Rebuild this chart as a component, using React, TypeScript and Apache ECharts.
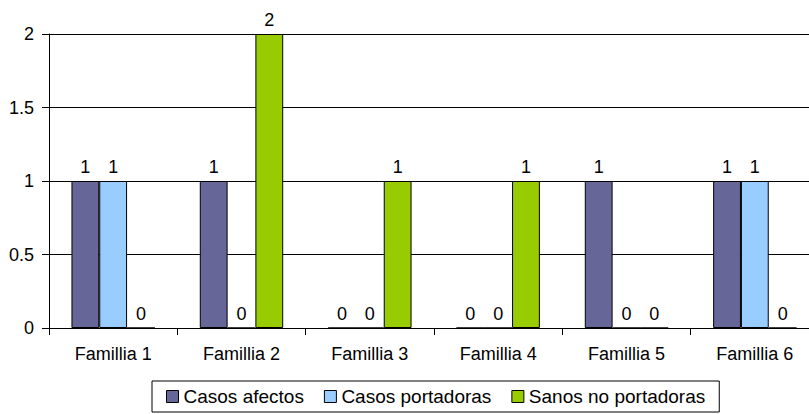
import React, { useEffect, useRef } from "react";
import * as echarts from "echarts";

const categories = ["Famillia 1", "Famillia 2", "Famillia 3", "Famillia 4", "Famillia 5", "Famillia 6"];
const casosAfectos = [1, 1, 0, 0, 1, 1];
const casosPortadoras = [1, 0, 0, 0, 0, 1];
const sanosNoPortadoras = [0, 2, 1, 1, 0, 0];
const seriesNames = ["Casos afectos", "Casos portadoras", "Sanos no portadoras"];
const seriesColors = ["#666699", "#99CCFF", "#99CC00"];

const FONT = "Liberation Sans, Arial, sans-serif";

export default function App() {
  const ref = useRef<HTMLDivElement>(null);
  useEffect(() => {
    if (!ref.current) return;
    const chart = echarts.init(ref.current, null, { renderer: "svg" });
    const data = [casosAfectos, casosPortadoras, sanosNoPortadoras];
    chart.setOption({
      animation: false,
      textStyle: { fontFamily: FONT },
      grid: { left: 49, top: 34, width: 770, height: 294, containLabel: false },
      legend: {
        left: 152,
        top: 381,
        padding: [6, 14, 6, 14],
        borderColor: "#000",
        borderWidth: 1,
        itemWidth: 12,
        itemHeight: 12,
        itemGap: 20,
        icon: "rect",
        textStyle: { fontFamily: FONT, fontSize: 19, color: "#000" },
        itemStyle: { borderColor: "#000", borderWidth: 1 },
        data: seriesNames,
      },
      xAxis: {
        type: "category",
        data: categories,
        axisLine: { lineStyle: { color: "#000", width: 1 } },
        axisTick: { show: true, length: 7, alignWithLabel: false, lineStyle: { color: "#000" } },
        axisLabel: { color: "#000", fontSize: 18, margin: 17, fontFamily: FONT },
      },
      yAxis: {
        type: "value",
        min: 0,
        max: 2,
        interval: 0.5,
        axisLine: { show: true, lineStyle: { color: "#000", width: 1 } },
        axisTick: { show: true, length: 7, lineStyle: { color: "#000" } },
        axisLabel: { color: "#000", fontSize: 18, margin: 15, fontFamily: FONT },
        splitLine: { show: true, lineStyle: { color: "#000", width: 1 } },
      },
      series: seriesNames.map((name, i) => ({
        name,
        type: "bar",
        data: data[i],
        barGap: "0%",
        barCategoryGap: "35%",
        itemStyle: { color: seriesColors[i], borderColor: "#000", borderWidth: 1 },
        label: {
          show: true,
          position: "top",
          distance: 5,
          color: "#000",
          fontSize: 18,
          fontFamily: FONT,
        },
      })),
    });
    return () => chart.dispose();
  }, []);
  return (
    <div style={{ position: "absolute", left: 0, top: 0, width: 809, height: 414, overflow: "hidden" }}>
      <div ref={ref} style={{ width: 840, height: 414 }} />
    </div>
  );
}
